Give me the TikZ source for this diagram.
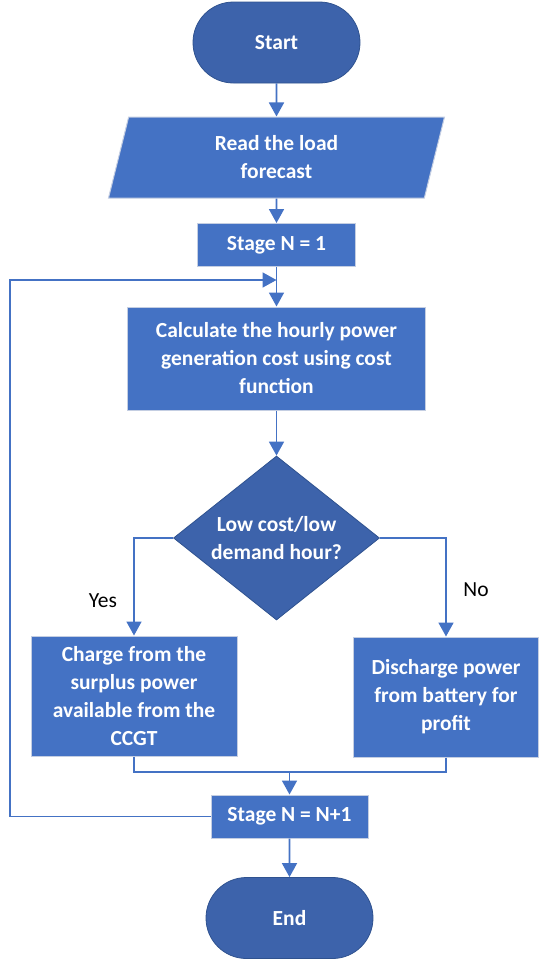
\documentclass[tikz,border=0pt]{standalone}
\usepackage{fontspec}
\setmainfont{Carlito}
\usetikzlibrary{arrows.meta,shapes.geometric,shapes.misc}
\definecolor{fcblue}{RGB}{68,114,196}
\definecolor{fcdark}{RGB}{61,99,171}
\definecolor{fcedge}{RGB}{47,82,143}
\definecolor{fcrim}{RGB}{196,206,226}
\tikzset{
  txt/.style={text=white, font=\fontsize{21.5}{28}\selectfont\bfseries, align=center, inner sep=0pt},
  term/.style={rounded rectangle, draw=fcedge, fill=fcdark, line width=0.8pt,
               minimum width=167pt, minimum height=81pt, txt},
  proc/.style={rectangle, draw=fcrim, fill=fcblue, line width=1pt, txt},
  io/.style={trapezium, trapezium left angle=65, trapezium right angle=115,
             trapezium stretches body, draw=fcrim, fill=fcblue, line width=1pt,
             minimum width=336pt, minimum height=81pt, txt},
  dec/.style={diamond, draw=fcedge, fill=fcdark, line width=0.8pt, txt,
              aspect=1.256, inner sep=-8pt, minimum width=206pt, minimum height=164pt},
  flow/.style={-{Triangle[length=14pt,width=15pt]}, fcblue, line width=1.8pt},
  wire/.style={fcblue, line width=1.8pt},
  ans/.style={font=\fontsize{21.5}{24}\selectfont, text=black},
}

\begin{document}
\begin{tikzpicture}[x=1pt, y=-1pt]
  \useasboundingbox (0,0) rectangle (539,959);
  \node[term] (start) at (276.5,42.5) {Start};
  \node[io] (read) at (276.5,157.5) {Read the load\\forecast};
  \node[proc, minimum width=158pt, minimum height=43pt] (stg1) at (276.5,245) {Stage N = 1};
  \node[proc, minimum width=298pt, minimum height=103pt] (calc) at (276.5,358.5)
    {Calculate the hourly power\\generation cost using cost\\function};
  \node[dec] (lowq) at (276.5,538) {Low cost/low\\demand hour?};
  \node[proc, minimum width=206pt, minimum height=120pt] (chg) at (134,696)
    {Charge from the\\surplus power\\available from the\\CCGT};
  \node[proc, minimum width=185pt, minimum height=120pt] (dis) at (446,697)
    {Discharge power\\from battery for\\profit};
  \node[proc, minimum width=157pt, minimum height=43pt] (stg2) at (289.5,816.5) {Stage N = N+1};
  \node[term] (end) at (289.5,918) {End};
  \node[ans] (yes) at (103,601) {Yes};
  \node[ans] (no) at (476,590) {No};
  \coordinate (back) at (276.5,280);
  \coordinate (join) at (289.5,772);

  \draw[flow] (start) -- (read);
  \draw[flow] (read) -- (stg1);
  \draw[flow] (stg1) -- (calc);
  \draw[flow] (calc) -- (lowq);
  \draw[flow] (lowq.west) -| (chg.north);
  \draw[flow] (lowq.east) -| (dis.north);
  \draw[wire] (chg.south) |- (join);
  \draw[wire] (dis.south) |- (join);
  \draw[flow] (join) -- (stg2);
  \draw[flow] (stg2) -- (end);
  \draw[flow] (stg2.west) -- (stg2.west -| 10,0) |- (back);
\end{tikzpicture}
\end{document}
